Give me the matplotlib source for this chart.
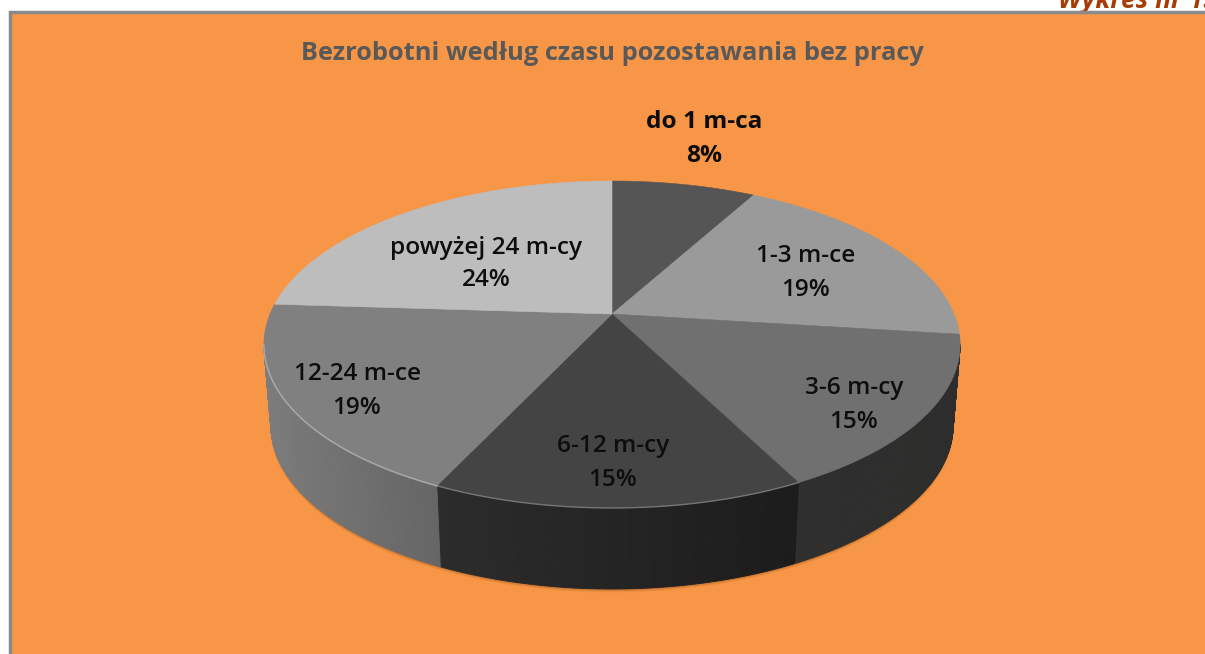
import numpy as np
import matplotlib
matplotlib.use("Agg")
import matplotlib.pyplot as plt
from matplotlib.patches import Polygon, Rectangle
from matplotlib.colors import LinearSegmentedColormap

categories = ["do 1 m-ca", "1-3 m-ce", "3-6 m-cy", "6-12 m-cy", "12-24 m-ce", "powyżej 24 m-cy"]
values = [8, 19, 15.49, 14.51, 19, 24]
percent_labels = ["8%", "19%", "15%", "15%", "19%", "24%"]
title_text = "Bezrobotni według czasu pozostawania bez pracy"
corner_text = "Wykres nr 15"

top_colors = ["#555555", "#9a9a9a", "#707070", "#444444", "#808080", "#bdbdbd"]
side_stops = {2: ["#2f2f2f", "#2d2d2d"], 3: ["#2c2c2c", "#1c1c1c"], 4: ["#7c7c7c", "#666666"]}
label_xy = [(704, 139), (806, 273), (854, 405), (613, 463), (357, 391), (486, 264)]
label_weight = ["bold", "semibold", "semibold", "semibold", "semibold", "semibold"]

W, H, K = 342.0, 157.8, 0.1865
CX, CY, DEPTH, NARROW = 612.0, 314.0, 81.0, 0.98
BG = "#f79646"

plt.rcParams["font.family"] = ["Open Sans", "DejaVu Sans"]
fig = plt.figure(figsize=(12.05, 6.54), dpi=100, facecolor="white")
ax = fig.add_axes([0, 0, 1, 1])
ax.set_xlim(0, 1205)
ax.set_ylim(654, 0)
ax.axis("off")


def project(a):
    s, c = np.sin(a), np.cos(a)
    w = 1 + K * c
    return CX + W * s / w, CY - H * c / w


def lower(x, y):
    return CX + (x - CX) * NARROW, y + DEPTH


ax.add_patch(Rectangle((10, 12), 1300, 800, fc=BG, ec="#8a8a8a", lw=2.5, zorder=1))
ax.text(1058, 1, corner_text, color="#a63c06", fontsize=19, fontweight="bold", style="italic",
        ha="left", va="center", zorder=0)
ax.text(612, 54, title_text, color="#595959", fontsize=18.3, fontweight="bold", ha="center", va="center", zorder=6)

edges = np.cumsum([0] + values) / sum(values) * 2 * np.pi
front0, front1 = np.arccos(-K), 2 * np.pi - np.arccos(-K)

# soft shadow under the wall
t = np.linspace(front0, front1, 200)
sx, sy = project(t)
bx, by = lower(sx, sy)
for off, al in zip([5, 4, 3, 2, 1], [0.06, 0.08, 0.10, 0.14, 0.18]):
    ax.fill(np.r_[sx, bx[::-1]], np.r_[sy, by[::-1] + off * 0.8 - 0.5],
            color="#6e3606", alpha=al, lw=0, zorder=2)

# side wall
for i, (a0, a1) in enumerate(zip(edges[:-1], edges[1:])):
    lo, hi = max(a0, front0), min(a1, front1)
    if hi <= lo:
        continue
    cmap = LinearSegmentedColormap.from_list("s", side_stops.get(i, ["#333333", "#333333"]))
    n = 140
    ts = np.linspace(lo, hi, n + 1)
    xs, ys = project(ts)
    xb, yb = lower(xs, ys)
    for j in range(n):
        f = (xs[j] - xs.min()) / (np.ptp(xs) or 1)
        col = cmap(f)
        quad = [(xs[j], ys[j]), (xs[j + 1], ys[j + 1]), (xb[j + 1], yb[j + 1]), (xb[j], yb[j])]
        ax.add_patch(Polygon(quad, closed=True, fc=col, ec=col, lw=0.6, zorder=3))

# top face
for i, (a0, a1) in enumerate(zip(edges[:-1], edges[1:])):
    ts = np.linspace(a0, a1, 120)
    xs, ys = project(ts)
    pts = np.r_[[[CX, CY]], np.c_[xs, ys]]
    ax.add_patch(Polygon(pts, closed=True, fc=top_colors[i], ec=top_colors[i], lw=0.4, zorder=4))

# light rim on the front-left edge
rx, ry = project(np.linspace(edges[3], edges[4], 120))
ax.plot(rx, ry, color="#8e8e8e", lw=1.0, alpha=0.7, zorder=5)
rx, ry = project(np.linspace(edges[4], front1, 120))
ax.plot(rx, ry, color="#b4b4b4", lw=1.1, alpha=0.8, zorder=5)

for name, pct, (x, y), wt in zip(categories, percent_labels, label_xy, label_weight):
    ax.text(x, y, f"{name}\n{pct}", color="#0d0d0d", fontsize=17.6, fontweight=wt,
            ha="center", va="center", linespacing=1.5, zorder=6)

fig.savefig("out.png", dpi=100, facecolor="white")
